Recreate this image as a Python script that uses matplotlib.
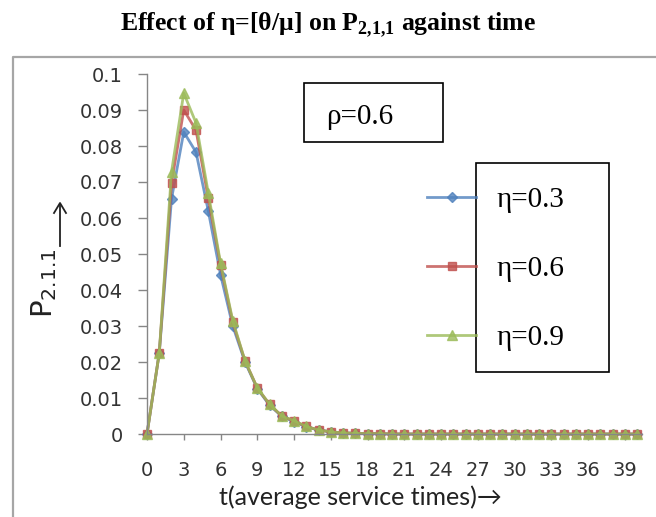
import matplotlib
matplotlib.use("Agg")
import matplotlib.pyplot as plt
from matplotlib.patches import Rectangle
from matplotlib.lines import Line2D
from matplotlib.font_manager import FontProperties

# t in average service times, 0..40
t = list(range(41))

eta_labels = ["η=0.3", "η=0.6", "η=0.9"]

p_eta03 = [0, 0.0225, 0.0653, 0.0839, 0.0783, 0.0620, 0.0443, 0.0300, 0.0200, 0.0126,
           0.0080, 0.0049, 0.0034, 0.0020, 0.0011, 0.0006, 0.0003, 0.0002, 0.0001, 0.0001,
           0, 0, 0, 0, 0, 0, 0, 0, 0, 0, 0, 0, 0, 0, 0, 0, 0, 0, 0, 0, 0]
p_eta06 = [0, 0.0225, 0.0697, 0.0900, 0.0844, 0.0655, 0.0470, 0.0310, 0.0203, 0.0128,
           0.0082, 0.0050, 0.0036, 0.0021, 0.0011, 0.0006, 0.0003, 0.0002, 0.0001, 0.0001,
           0, 0, 0, 0, 0, 0, 0, 0, 0, 0, 0, 0, 0, 0, 0, 0, 0, 0, 0, 0, 0]
p_eta09 = [0, 0.0225, 0.0728, 0.0947, 0.0864, 0.0670, 0.0475, 0.0315, 0.0203, 0.0128,
           0.0083, 0.0050, 0.0037, 0.0021, 0.0011, 0.0006, 0.0003, 0.0002, 0.0001, 0.0001,
           0, 0, 0, 0, 0, 0, 0, 0, 0, 0, 0, 0, 0, 0, 0, 0, 0, 0, 0, 0, 0]

series = [p_eta03, p_eta06, p_eta09]
colors = ["#4F81BD", "#C0504D", "#9BBB59"]
markers = ["D", "s", "^"]
msizes = [5, 6, 7]

W, H = 656, 517
fig = plt.figure(figsize=(W / 100, H / 100), dpi=100)


def fx(px):
    return px / W


def fy(py):
    # py measured from top of image
    return 1 - py / H


ax = fig.add_axes([fx(147), fy(434), fx(642) - fx(147), fy(74) - fy(434)])

handles = []
for vals, c, m, ms in zip(series, colors, markers, msizes):
    ln, = ax.plot(t, vals, color=c, marker=m, markersize=ms, linewidth=2,
                  markeredgecolor=c, alpha=0.8, clip_on=False)
    handles.append(ln)

ax.set_xlim(0, 40.4)
ax.set_ylim(0, 0.1)
ax.set_xticks(range(0, 40, 3))
ax.set_yticks([i / 100 for i in range(11)])
ax.set_yticklabels(["0"] + ["0.%02d" % i for i in range(1, 10)] + ["0.1"])

for s in ["top", "right"]:
    ax.spines[s].set_visible(False)
for s in ["left", "bottom"]:
    ax.spines[s].set_color("#868686")
    ax.spines[s].set_linewidth(1.0)
ax.tick_params(axis="y", direction="out", length=6.5, width=1, color="#868686",
               labelsize=14, pad=11, labelcolor="#333333")
ax.tick_params(axis="x", direction="out", length=4.5, width=1, color="#868686",
               labelsize=14, pad=15, labelcolor="#333333")

# axis titles
fig.text(fx(44), fy(283), r"P$_{2.1.1}$", rotation=90, ha="center", va="center",
         fontsize=21, color="#222222", math_fontfamily="dejavusans")
fig.add_artist(Line2D([fx(60), fx(60)], [fy(246), fy(204)], color="#222222", lw=1.3))
fig.add_artist(Line2D([fx(54), fx(60), fx(66)], [fy(213), fy(203), fy(213)],
                      color="#222222", lw=1.3))
fig.text(fx(360), fy(497), "t(average service times)→", ha="center", va="center",
         fontsize=18, color="#222222", family=["Lato", "DejaVu Sans"])

# title
plt.rcParams["mathtext.fontset"] = "custom"
plt.rcParams["mathtext.rm"] = "Liberation Serif"
plt.rcParams["mathtext.bf"] = "Liberation Serif:bold"
fig.text(0.5, fy(25), r"Effect of η=[θ/μ] on P$_{\mathbf{2{,}1{,}1}}$ against time",
         ha="center", va="center", fontsize=18.5, fontweight="bold",
         family="Liberation Serif", math_fontfamily="custom")

# outer chart frame
fig.add_artist(Line2D([fx(13), fx(13), 1.0], [0.0, fy(57), fy(57)],
                      color="#A6A6A6", lw=1.6))

# rho box
fig.add_artist(Rectangle((fx(304), fy(142)), fx(443) - fx(304), fy(83) - fy(142),
                         transform=fig.transFigure, fill=False, edgecolor="black", lw=1.2))
fig.text(fx(326), fy(117), "ρ=0.6", ha="left", va="center", fontsize=21,
         family="Liberation Serif")

# legend (markers sit outside the boxed text, as in the original)
leg = fig.legend(handles, eta_labels, loc="upper left",
                 bbox_to_anchor=(fx(427), fy(187)), bbox_transform=fig.transFigure,
                 frameon=False, borderpad=0, borderaxespad=0,
                 handlelength=1.68, handletextpad=0.72, labelspacing=1.45,
                 prop=FontProperties(family="Liberation Serif", size=21))
fig.add_artist(Rectangle((fx(476), fy(372)), fx(609) - fx(476), fy(163) - fy(372),
                         transform=fig.transFigure, fill=False, edgecolor="black", lw=1.2))

fig.savefig("out.png", dpi=100)
